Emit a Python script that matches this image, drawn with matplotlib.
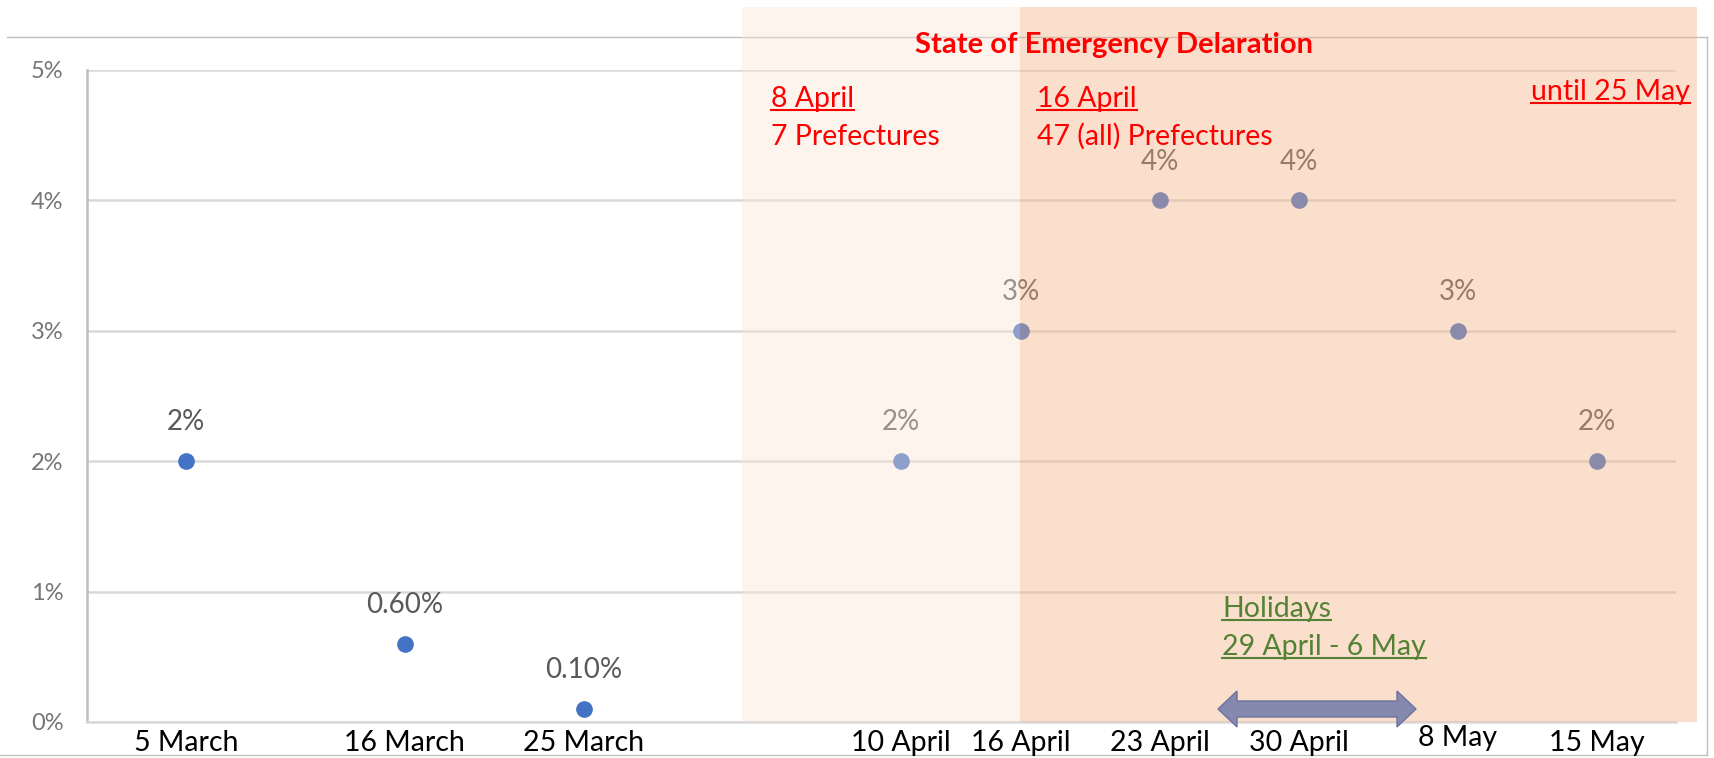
import datetime as dt
import matplotlib
matplotlib.use('Agg')
import matplotlib.pyplot as plt
import matplotlib.dates as mdates
from matplotlib.patches import Rectangle, Polygon
from matplotlib.lines import Line2D
from matplotlib.transforms import ScaledTranslation

# data
dates = ['2020-03-05', '2020-03-16', '2020-03-25', '2020-04-10', '2020-04-16',
         '2020-04-23', '2020-04-30', '2020-05-08', '2020-05-15']
tick_labels = ['5 March', '16 March', '25 March', '10 April', '16 April',
               '23 April', '30 April', '8 May', '15 May']
values = [2, 0.6, 0.1, 2, 3, 4, 4, 3, 2]
value_labels = ['2%', '0.60%', '0.10%', '2%', '3%', '4%', '4%', '3%', '2%']
y_ticks = [0, 1, 2, 3, 4, 5]
y_tick_labels = ['0%', '1%', '2%', '3%', '4%', '5%']

plt.rcParams['font.family'] = ['Lato', 'DejaVu Sans']

W, H = 1714, 758


def fx(px):
    return px / W


def fy(py):
    return 1 - py / H


fig = plt.figure(figsize=(W / 100, H / 100), dpi=100)
ax = fig.add_axes([fx(87), fy(722), fx(1676) - fx(87), fy(70) - fy(722)])

x = [mdates.date2num(dt.datetime.strptime(d, '%Y-%m-%d')) for d in dates]
ax.plot(x, values, 'o', ms=11, color='#4472C4', zorder=3)
for xi, v, lab in zip(x, values, value_labels):
    ax.annotate(lab, (xi, v), xytext=(0, 28), textcoords='offset points',
                ha='center', va='center', fontsize=20, color='#595959')

ax.set_xlim(mdates.date2num(dt.datetime(2020, 2, 29)), mdates.date2num(dt.datetime(2020, 5, 19)))
ax.set_ylim(0, 5)
ax.set_yticks(y_ticks, y_tick_labels)
ax.set_xticks(x, tick_labels)
ax.tick_params(axis='y', length=0, pad=17, labelsize=17, labelcolor='#767676')
ax.tick_params(axis='x', length=0, pad=6, labelsize=20.5, labelcolor='black')
ax.yaxis.grid(True, color='#D9D9D9', lw=1.8)
ax.set_axisbelow(True)
for s in ['top', 'right']:
    ax.spines[s].set_visible(False)
ax.spines['left'].set_color('#BFBFBF')
ax.spines['left'].set_linewidth(1.8)
ax.spines['bottom'].set_color('#D9D9D9')
ax.spines['bottom'].set_linewidth(1.8)

# "8 May" label sits a bit higher
lbl = ax.get_xticklabels()[7]
lbl.set_transform(lbl.get_transform() + ScaledTranslation(0, 3.5 / 72, fig.dpi_scale_trans))

# outer frame (no left edge)
frame = '#BFBFBF'
fig.add_artist(Line2D([fx(7), fx(1707)], [fy(37)] * 2, transform=fig.transFigure, color=frame, lw=1, zorder=-1))
fig.add_artist(Line2D([fx(1707)] * 2, [fy(37), fy(755)], transform=fig.transFigure, color=frame, lw=1, zorder=-1))
fig.add_artist(Line2D([fx(0), fx(1707)], [fy(755)] * 2, transform=fig.transFigure, color=frame, lw=1, zorder=-1))

# emergency shading
fig.add_artist(Rectangle((fx(742), fy(722)), fx(1020) - fx(742), fy(7) - fy(722),
                         transform=fig.transFigure, color='#FBE5D6', alpha=0.4, lw=0, zorder=1))
fig.add_artist(Rectangle((fx(1020), fy(722)), fx(1697) - fx(1020), fy(7) - fy(722),
                         transform=fig.transFigure, color='#F4B183', alpha=0.4, lw=0, zorder=1))

# holiday arrow
arrow_px = [(1218, 709), (1237, 691), (1237, 701), (1397, 701), (1397, 691), (1416, 709),
            (1397, 727), (1397, 717), (1237, 717), (1237, 727)]
fig.add_artist(Polygon([(fx(a), fy(b)) for a, b in arrow_px], closed=True, transform=fig.transFigure,
                       fc='#8589AE', ec='#6F739A', lw=1, zorder=3))

red = '#FF0000'
green = '#548235'
fig.text(fx(1114), fy(53), 'State of Emergency Delaration', ha='center', va='baseline',
         fontsize=21, fontweight='bold', color=red, zorder=2)

notes = [
    (771, 107, '8 April', 'left', red, True),
    (771, 145, '7 Prefectures', 'left', red, False),
    (1037, 107, '16 April', 'left', red, True),
    (1037, 145, '47 (all) Prefectures', 'left', red, False),
    (1690, 100, 'until 25 May', 'right', red, True),
    (1222, 617, 'Holidays', 'left', green, True),
    (1222, 655, '29 April - 6 May', 'left', green, True),
]
texts = []
for px, py, s, ha, c, ul in notes:
    t = fig.text(fx(px), fy(py), s, ha=ha, va='baseline', fontsize=20.5, color=c, zorder=2)
    texts.append((t, py, c, ul))

renderer = fig.canvas.get_renderer()
for t, py, c, ul in texts:
    if not ul:
        continue
    bb = t.get_window_extent(renderer)
    fig.add_artist(Line2D([bb.x0 / W, bb.x1 / W], [fy(py + 3)] * 2, transform=fig.transFigure,
                          color=c, lw=1.5, zorder=2))

fig.savefig('out.png', dpi=100)
